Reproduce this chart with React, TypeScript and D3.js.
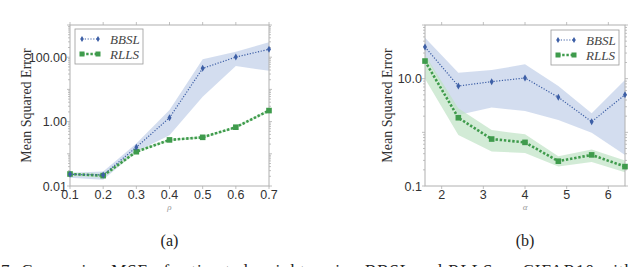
import React from "react";
import * as d3 from "d3";

// Panel (a)
const rhoVals = [0.1, 0.2, 0.3, 0.4, 0.5, 0.6, 0.7];
const bbslA = [0.023, 0.022, 0.16, 1.32, 45, 101, 176];
const bbslALo = [0.018, 0.0155, 0.116, 0.38, 5.9, 53, 38];
const bbslAHi = [0.026, 0.028, 0.21, 2.3, 86, 148, 290];
const rllsA = [0.0236, 0.021, 0.116, 0.27, 0.325, 0.67, 2.2];
const rllsALo = [0.021, 0.018, 0.105, 0.25, 0.3, 0.62, 2.0];
const rllsAHi = [0.026, 0.024, 0.128, 0.29, 0.35, 0.72, 2.4];
const xTicksA = [0.1, 0.2, 0.3, 0.4, 0.5, 0.6, 0.7];
const yTicksA = [0.01, 1, 100];
const yTickLabelsA = ["0.01", "1.00", "100.00"];

// Panel (b)
const alphaVals = [1.6, 2.4, 3.2, 4.0, 4.8, 5.6, 6.4];
const bbslB = [39, 7.3, 8.8, 10.3, 4.5, 1.58, 5.0];
const bbslBLo = [27, 2.1, 2.9, 2.5, 1.7, 0.98, 0.38];
const bbslBHi = [58, 12.9, 14.5, 18.5, 7.3, 2.26, 9.4];
const rllsB = [21.3, 1.87, 0.75, 0.65, 0.29, 0.38, 0.23];
const rllsBLo = [10, 0.89, 0.44, 0.41, 0.23, 0.28, 0.18];
const rllsBHi = [28, 2.8, 1.1, 0.92, 0.36, 0.48, 0.3];
const xTicksB = [2, 3, 4, 5, 6];
const yTicksB = [0.1, 10];
const yTickLabelsB = ["0.1", "10.0"];

const BLUE = "#3d5fa6";
const GREEN = "#3f9b4c";
const AXIS = "#b0b0b0";
const SANS = "Liberation Sans, Arial, sans-serif";
const SERIF = "Liberation Serif, Times New Roman, serif";

type PanelProps = {
  x0: number; x1: number; y0: number; y1: number;
  xDomain: [number, number]; yDomain: [number, number];
  xs: number[]; b: number[]; bLo: number[]; bHi: number[];
  r: number[]; rLo: number[]; rHi: number[];
  xTicks: number[]; xTickFmt: (v: number) => string;
  yTicks: number[]; yTickLabels: string[];
  yLabelX: number; xTitle: string; sub: string;
  legendX: number; legendY: number;
};

function Panel(p: PanelProps) {
  const x = d3.scaleLinear().domain(p.xDomain).range([p.x0, p.x1]);
  const y = d3.scaleLog().domain(p.yDomain).range([p.y1, p.y0]);
  const line = d3.line<number>().x((_, i) => x(p.xs[i])).y((v) => y(v));
  const area = (lo: number[], hi: number[]) =>
    d3.area<number>().x((_, i) => x(p.xs[i])).y0((_, i) => y(lo[i])).y1((_, i) => y(hi[i]))(lo) || "";
  const lo = Math.floor(Math.log10(p.yDomain[0]));
  const hi = Math.ceil(Math.log10(p.yDomain[1]));
  const minors: number[] = [];
  for (let k = lo; k < hi; k++) for (let m = 2; m <= 9; m++) {
    const v = m * Math.pow(10, k);
    if (v > p.yDomain[0] && v < p.yDomain[1]) minors.push(v);
  }
  const majorsAll: number[] = [];
  for (let k = lo; k <= hi; k++) { const v = Math.pow(10, k); if (v >= p.yDomain[0] && v <= p.yDomain[1]) majorsAll.push(v); }
  const cy = (p.y0 + p.y1) / 2;
  const cx = (p.x0 + p.x1) / 2;
  const lx = p.legendX, ly = p.legendY;
  return (
    <g>
      <path d={area(p.bLo, p.bHi)} fill="#c4d2ea" fillOpacity={0.75} />
      <path d={area(p.rLo, p.rHi)} fill="#bfe2c4" fillOpacity={0.7} />
      <rect x={p.x0} y={p.y0} width={p.x1 - p.x0} height={p.y1 - p.y0} fill="none" stroke={AXIS} strokeWidth={1} />
      {minors.map((v, i) => (
        <g key={"mn" + i}>
          <line x1={p.x0 - 2} x2={p.x0} y1={y(v)} y2={y(v)} stroke={AXIS} strokeWidth={0.8} />
          <line x1={p.x1} x2={p.x1 + 2} y1={y(v)} y2={y(v)} stroke={AXIS} strokeWidth={0.8} />
        </g>
      ))}
      {majorsAll.map((v, i) => (
        <g key={"mj" + i}>
          <line x1={p.x0 - 3} x2={p.x0} y1={y(v)} y2={y(v)} stroke={AXIS} strokeWidth={0.8} />
          <line x1={p.x1} x2={p.x1 + 3} y1={y(v)} y2={y(v)} stroke={AXIS} strokeWidth={0.8} />
        </g>
      ))}
      {p.xTicks.map((v, i) => (
        <g key={"xt" + i}>
          <line x1={x(v)} x2={x(v)} y1={p.y0 - 3} y2={p.y0} stroke={AXIS} strokeWidth={0.8} />
          <line x1={x(v)} x2={x(v)} y1={p.y1} y2={p.y1 + 3} stroke={AXIS} strokeWidth={0.8} />
          <text x={x(v)} y={p.y1 + 13} textAnchor="middle" fontFamily={SANS} fontSize={12.5} fill="#333">{p.xTickFmt(v)}</text>
        </g>
      ))}
      {p.yTicks.map((v, i) => (
        <text key={"yt" + i} x={p.x0 - 3} y={y(v) + 4.5} textAnchor="end" fontFamily={SANS} fontSize={12.5} fill="#333">{p.yTickLabels[i]}</text>
      ))}
      <text transform={`translate(${p.yLabelX},${cy}) rotate(-90)`} textAnchor="middle" fontFamily={SERIF} fontSize={14} fill="#333">Mean Squared Error</text>
      <text x={cx} y={p.y1 + 24} textAnchor="middle" fontFamily={SERIF} fontStyle="italic" fontSize={9} fill="#999">{p.xTitle}</text>
      <text x={cx} y={p.y1 + 60} textAnchor="middle" fontFamily={SERIF} fontSize={16} fill="#222">{p.sub}</text>

      <path d={line(p.r) || ""} fill="none" stroke={GREEN} strokeWidth={2.6} strokeDasharray="2.4,1.8" />
      {p.r.map((v, i) => (
        <rect key={"rm" + i} x={x(p.xs[i]) - 2.8} y={y(v) - 2.8} width={5.6} height={5.6} fill={GREEN} />
      ))}
      <path d={line(p.b) || ""} fill="none" stroke={BLUE} strokeWidth={1.2} strokeDasharray="1.2,1.6" />
      {p.b.map((v, i) => (
        <path key={"bm" + i} d={`M${x(p.xs[i])},${y(v) - 3.5}L${x(p.xs[i]) + 2},${y(v)}L${x(p.xs[i])},${y(v) + 3.5}L${x(p.xs[i]) - 2},${y(v)}Z`} fill={BLUE} />
      ))}

      <rect x={lx} y={ly} width={68} height={35} fill="white" stroke="#999" strokeWidth={0.8} />
      <line x1={lx + 7} x2={lx + 23} y1={ly + 10} y2={ly + 10} stroke={BLUE} strokeWidth={1.2} strokeDasharray="1.2,1.6" />
      <path d={`M${lx + 7},${ly + 7}L${lx + 8.8},${ly + 10}L${lx + 7},${ly + 13}L${lx + 5.2},${ly + 10}Z`} fill={BLUE} />
      <path d={`M${lx + 23},${ly + 7}L${lx + 24.8},${ly + 10}L${lx + 23},${ly + 13}L${lx + 21.2},${ly + 10}Z`} fill={BLUE} />
      <text x={lx + 35} y={ly + 14.5} fontFamily={SERIF} fontStyle="italic" fontSize={13} fill="#444">BBSL</text>
      <line x1={lx + 7} x2={lx + 23} y1={ly + 25} y2={ly + 25} stroke={GREEN} strokeWidth={2.6} strokeDasharray="2.4,1.8" />
      <rect x={lx + 4.5} y={ly + 22.5} width={5} height={5} fill={GREEN} />
      <rect x={lx + 20.5} y={ly + 22.5} width={5} height={5} fill={GREEN} />
      <text x={lx + 35} y={ly + 29.5} fontFamily={SERIF} fontStyle="italic" fontSize={13} fill="#444">RLLS</text>
    </g>
  );
}

export default function App() {
  return (
    <svg width={640} height={267} style={{ position: "absolute", left: 0, top: 0, background: "white" }}>
      <rect width={640} height={267} fill="white" />
      <Panel x0={70} x1={269} y0={25} y1={186} xDomain={[0.1, 0.7]} yDomain={[0.01, 1000]}
        xs={rhoVals} b={bbslA} bLo={bbslALo} bHi={bbslAHi} r={rllsA} rLo={rllsALo} rHi={rllsAHi}
        xTicks={xTicksA} xTickFmt={(v) => v.toFixed(1)} yTicks={yTicksA} yTickLabels={yTickLabelsA}
        yLabelX={31} xTitle="ρ" sub="(a)" legendX={75} legendY={29} />
      <Panel x0={425} x1={625} y0={25} y1={186} xDomain={[1.6, 6.4]} yDomain={[0.1, 100]}
        xs={alphaVals} b={bbslB} bLo={bbslBLo} bHi={bbslBHi} r={rllsB} rLo={rllsBLo} rHi={rllsBHi}
        xTicks={xTicksB} xTickFmt={(v) => String(v)} yTicks={yTicksB} yTickLabels={yTickLabelsB}
        yLabelX={392} xTitle="α" sub="(b)" legendX={551} legendY={30} />
      <text x={1} y={276} fontFamily={SERIF} fontSize={17} fill="#222" textLength={632} lengthAdjust="spacing">
        7: Comparing MSE of estimated weights using BBSL and <tspan fontVariant="small-caps">RLLS</tspan> on CIFAR10 with
      </text>
    </svg>
  );
}
